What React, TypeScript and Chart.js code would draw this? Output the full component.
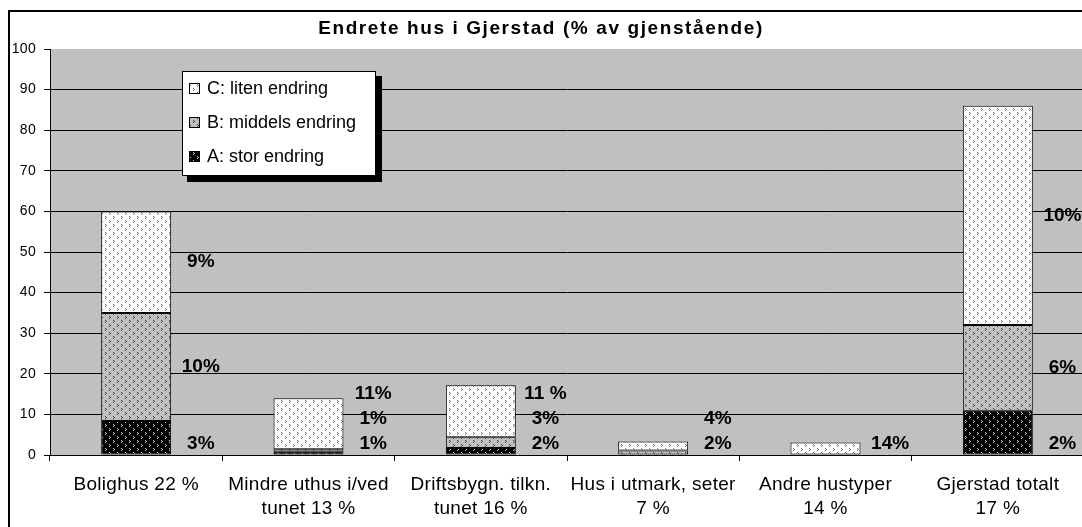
import React, { useEffect, useRef } from "react";
import { Chart, registerables } from "chart.js";

Chart.register(...registerables);

const chartTitle = "Endrete hus i Gjerstad (% av gjenstående)";
const categories: string[][] = [
  ["Bolighus 22 %"],
  ["Mindre uthus i/ved", "tunet 13 %"],
  ["Driftsbygn. tilkn.", "tunet 16 %"],
  ["Hus i utmark, seter", "7 %"],
  ["Andre hustyper", "14 %"],
  ["Gjerstad totalt", "17 %"],
];
const seriesNames = ["A: stor endring", "B: middels endring", "C: liten endring"];
const seriesA: (number | null)[] = [8.4, 0.8, 1.7, null, null, 10.9];
const seriesB: (number | null)[] = [26.6, 0.6, 2.7, 1.1, null, 21.1];
const seriesC: (number | null)[] = [25.0, 12.6, 12.8, 2.2, 3.1, 54.0];
const labelsA: (string | null)[] = ["3%", "1%", "2%", null, null, "2%"];
const labelsB: (string | null)[] = ["10%", "1%", "3%", "2%", null, "6%"];
const labelsC: (string | null)[] = ["9%", "11%", "11 %", "4%", "14%", "10%"];
const yTicks = [0, 10, 20, 30, 40, 50, 60, 70, 80, 90, 100];

const FONT = "'Liberation Sans', Arial, sans-serif";

function makePattern(bg: string, fg: string): CanvasPattern | string {
  const c = document.createElement("canvas");
  c.width = 8;
  c.height = 8;
  const g = c.getContext("2d");
  if (!g) return bg;
  g.fillStyle = bg;
  g.fillRect(0, 0, 8, 8);
  g.fillStyle = fg;
  g.fillRect(1, 0, 1, 1);
  g.fillRect(2, 1, 1, 1);
  g.fillRect(1, 2, 1, 1);
  g.fillRect(5, 4, 1, 1);
  g.fillRect(6, 5, 1, 1);
  g.fillRect(5, 6, 1, 1);
  const p = g.createPattern(c, "repeat");
  return p || bg;
}

function setSpacing(ctx: any, v: string) {
  try {
    ctx.letterSpacing = v;
  } catch (e) {}
}

export default function App() {
  const ref = useRef<HTMLCanvasElement | null>(null);

  useEffect(() => {
    const canvas = ref.current;
    if (!canvas) return;
    const patA = makePattern("#000000", "#d0d0d0");
    const patB = makePattern("#c0c0c0", "#404040");
    const patC = makePattern("#ffffff", "#707070");
    const pats = [patA, patB, patC];
    const series = [seriesA, seriesB, seriesC];
    const segLabels = [labelsA, labelsB, labelsC];

    const decor = {
      id: "decor",
      beforeDraw(chart: any) {
        const { ctx, chartArea } = chart;
        ctx.save();
        ctx.fillStyle = "#ffffff";
        ctx.fillRect(0, 0, chart.width, chart.height);
        ctx.fillStyle = "#c0c0c0";
        ctx.fillRect(chartArea.left, chartArea.top, chartArea.right - chartArea.left, chartArea.bottom - chartArea.top);
        ctx.strokeStyle = "#000";
        ctx.lineWidth = 2;
        ctx.strokeRect(9, 11, 3000, 3000);
        // title
        ctx.fillStyle = "#000";
        ctx.font = `bold 19px ${FONT}`;
        ctx.textAlign = "center";
        ctx.textBaseline = "middle";
        setSpacing(ctx, "1.6px");
        ctx.fillText(chartTitle, 541, 29);
        setSpacing(ctx, "0px");
        ctx.restore();
        setSpacing(ctx, "0.3px");
      },
      afterDatasetsDraw(chart: any) {
        const { ctx } = chart;
        const xs = chart.scales.x;
        const ys = chart.scales.y;
        const catW = xs.getPixelForValue(1) - xs.getPixelForValue(0);
        const bottom = ys.getPixelForValue(0);
        ctx.save();
        setSpacing(ctx, "0px");
        ctx.fillStyle = "#000";
        ctx.font = `bold 19px ${FONT}`;
        ctx.textAlign = "center";
        ctx.textBaseline = "middle";
        for (let i = 0; i < categories.length; i++) {
          const lx = xs.getPixelForValue(i) + catW * 0.375;
          let cum = 0;
          let prevY: number | null = null;
          for (let s = 0; s < 3; s++) {
            const v = series[s][i] ?? 0;
            const lab = segLabels[s][i];
            if (lab) {
              const center = ys.getPixelForValue(cum + v / 2);
              const yy = prevY === null ? bottom - 11 : Math.min(center, prevY - 25);
              ctx.fillText(lab, lx, yy);
              prevY = yy;
            }
            cum += v;
          }
        }
        ctx.restore();
      },
      afterDraw(chart: any) {
        const { ctx } = chart;
        setSpacing(ctx, "0px");
        ctx.save();
        // legend shadow + box
        ctx.fillStyle = "#000";
        ctx.fillRect(187, 76, 195, 106);
        ctx.fillStyle = "#fff";
        ctx.fillRect(182, 71, 194, 105);
        ctx.strokeStyle = "#000";
        ctx.lineWidth = 1;
        ctx.strokeRect(182.5, 71.5, 193, 104);
        const rows = [89, 123, 157];
        ctx.font = `18px ${FONT}`;
        ctx.textAlign = "left";
        ctx.textBaseline = "middle";
        for (let r = 0; r < 3; r++) {
          const s = 2 - r;
          ctx.fillStyle = pats[s] as any;
          ctx.fillRect(189, rows[r] - 5, 10, 10);
          ctx.strokeStyle = "#000";
          ctx.strokeRect(189.5, rows[r] - 5.5, 10, 10);
          ctx.fillStyle = "#000";
          ctx.fillText(seriesNames[s], 207, rows[r]);
        }
        ctx.restore();
      },
    };

    const chart = new Chart(canvas, {
      type: "bar",
      data: {
        labels: categories,
        datasets: [0, 1, 2].map((s) => ({
          label: seriesNames[s],
          data: series[s],
          backgroundColor: pats[s] as any,
          borderColor: "#000",
          borderWidth: 1,
          borderSkipped: false,
          barPercentage: 0.406,
          categoryPercentage: 1,
          stack: "st",
        })),
      },
      options: {
        responsive: false,
        animation: false,
        devicePixelRatio: 1,
        layout: { padding: { top: 49, left: 0, right: 0, bottom: 0 } },
        plugins: {
          legend: { display: false },
          tooltip: { enabled: false },
          title: { display: false },
        },
        scales: {
          x: {
            stacked: true,
            offset: true,
            grid: {
              display: true,
              drawOnChartArea: false,
              drawTicks: true,
              tickLength: 6,
              tickColor: "#000",
              color: "#000",
              offset: true,
            },
            border: { display: true, color: "#000", width: 1 },
            ticks: {
              color: "#000",
              font: { family: FONT, size: 19, lineHeight: 24 / 19 },
              padding: 12,
              maxRotation: 0,
              autoSkip: false,
            },
            afterFit: (s: any) => {
              s.height = 85;
            },
          },
          y: {
            stacked: true,
            min: 0,
            max: 100,
            afterBuildTicks: (s: any) => {
              s.ticks = yTicks.map((v) => ({ value: v }));
            },
            ticks: {
              color: "#000",
              font: { family: FONT, size: 14 },
              padding: 8,
            },
            grid: {
              color: (c: any) => (c.tick && c.tick.value === 100 ? "rgba(0,0,0,0)" : "#000"),
              tickColor: "#000",
              tickLength: 6,
              lineWidth: 1,
            },
            border: { display: true, color: "#000", width: 1 },
            afterFit: (s: any) => {
              s.width = 50;
            },
          },
        },
      },
      plugins: [decor],
    });
    return () => chart.destroy();
  }, []);

  return (
    <div style={{ position: "fixed", left: 0, top: 0, width: 1082, height: 527, overflow: "hidden", background: "#fff" }}>
      <canvas ref={ref} width={1084} height={540} style={{ display: "block" }} />
    </div>
  );
}
